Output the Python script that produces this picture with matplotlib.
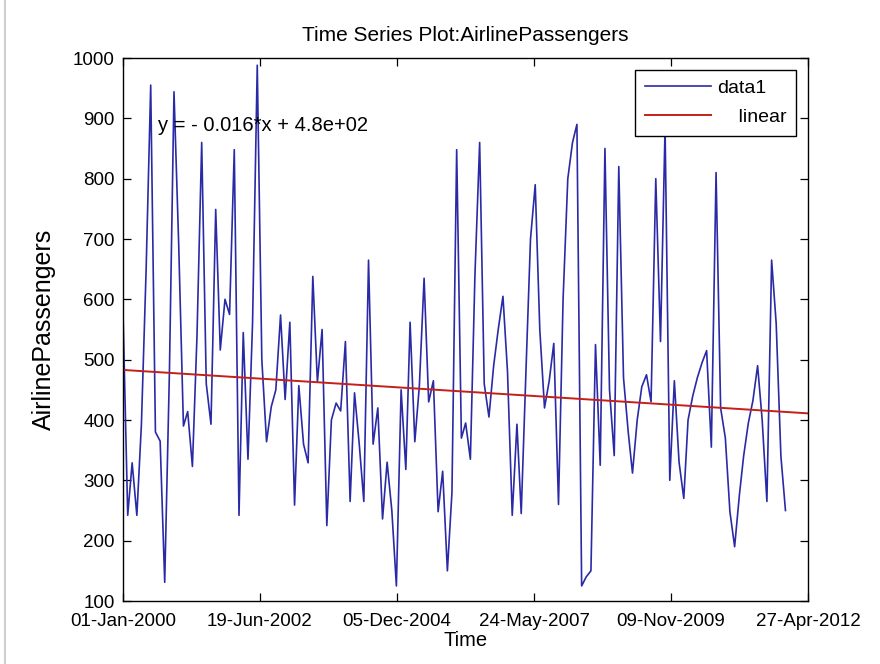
import numpy as np
import matplotlib
matplotlib.use("Agg")
import matplotlib.pyplot as plt
import matplotlib.dates as mdates
import pandas as pd

# ---------------- data ----------------
start_date = "2000-01-01"
passengers = [
    580, 242, 329, 242, 393, 650, 955, 380, 365, 131, 480, 944,
    690, 390, 414, 323, 539, 860, 460, 393, 749, 516, 600, 575,
    848, 242, 545, 335, 560, 988, 500, 364, 422, 450, 574, 434,
    562, 259, 457, 360, 329, 638, 463, 550, 225, 400, 428, 415,
    530, 265, 445, 360, 265, 665, 360, 420, 236, 330, 250, 125,
    450, 318, 562, 364, 457, 635, 430, 465, 248, 315, 150, 280,
    848, 370, 395, 335, 640, 860, 460, 405, 490, 550, 605, 480,
    242, 393, 245, 480, 700, 790, 550, 420, 465, 527, 260, 600,
    800, 860, 890, 125, 140, 150, 525, 325, 850, 450, 341, 820,
    470, 380, 312, 400, 455, 475, 430, 800, 530, 885, 300, 465,
    330, 270, 400, 440, 470, 495, 515, 355, 810, 420, 370, 248,
    190, 275, 340, 395, 432, 490, 400, 265, 665, 560, 340, 250,
]
fit_slope = -0.016      # per day since start
fit_intercept = 483.0
tick_step_days = 900
n_ticks = 6
y_ticks = list(range(100, 1001, 100))
series_labels = ["data1", "    linear"]

# ---------------- figure ----------------
plt.rcParams['font.family'] = ['Liberation Sans', 'DejaVu Sans']

fig = plt.figure(figsize=(8.8, 6.64), dpi=100)
ax = fig.add_axes([123/880, 1-601/664, (808-123)/880, (601-58)/664])

dates = pd.date_range(start_date, periods=len(passengers), freq="MS")
x = mdates.date2num(dates.to_pydatetime())
x0 = mdates.date2num(pd.Timestamp(start_date).to_pydatetime())

ax.plot(x, passengers, color="#2a2aa6", lw=1.2, label=series_labels[0])

t_end = tick_step_days * (n_ticks - 1)
t_fit = np.array([0, t_end])
ax.plot(x0 + t_fit, fit_slope * t_fit + fit_intercept, color="#c42018", lw=1.4,
        label=series_labels[1])

ax.set_xlim(x0, x0 + t_end)
ax.set_ylim(100, 1000)
tick_pos = [x0 + k * tick_step_days for k in range(n_ticks)]
ax.set_xticks(tick_pos)
ax.set_xticklabels([mdates.num2date(p).strftime("%d-%b-%Y") for p in tick_pos])
ax.set_yticks(y_ticks)

ax.tick_params(direction="in", top=True, right=True, labelsize=13.5, length=6,
               width=0.9)
ax.tick_params(axis="x", pad=9)
ax.tick_params(axis="y", pad=6)
for s in ax.spines.values():
    s.set_linewidth(1.0)

ax.set_title("Time Series Plot:AirlinePassengers", fontsize=15, pad=12)
ax.set_xlabel("Time", fontsize=14.5, labelpad=0)
ax.set_ylabel("AirlinePassengers", fontsize=18, labelpad=12)

ax.text(x0 + 230, 888, "y = - 0.016*x + 4.8e+02", fontsize=14.5,
        va="center", ha="left")

leg = ax.legend(loc="upper right", fancybox=False, edgecolor="black",
                framealpha=1, fontsize=14, handlelength=3.4, handletextpad=0.3,
                borderaxespad=0.6, labelspacing=0.6, borderpad=0.5)
leg.get_frame().set_linewidth(1.0)

fig.add_artist(plt.Line2D([5/880, 5/880], [0, 1], transform=fig.transFigure,
                          color="#cfcfcf", lw=1.5))

fig.savefig("out.png", dpi=100)
